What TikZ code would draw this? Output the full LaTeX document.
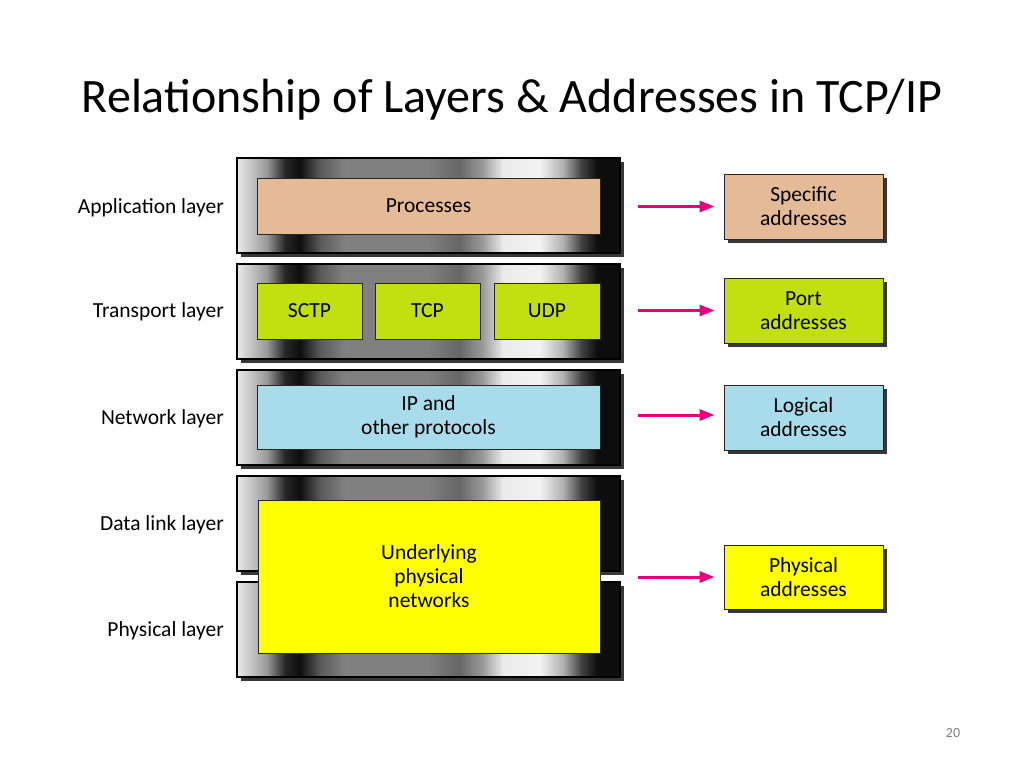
\documentclass[tikz,border=0pt]{standalone}
\usepackage{fontspec}
\setmainfont{Carlito}
\usetikzlibrary{arrows.meta,shadows}
\pgfdeclarehorizontalshading{metal}{100bp}{%
  color(0bp)=(black!8);
  color(25bp)=(black!8);
  color(28.9bp)=(black!40);
  color(31.25bp)=(black!85);
  color(33.2bp)=(black!95);
  color(35.85bp)=(black!65);
  color(39bp)=(black!50);
  color(50bp)=(black!50);
  color(54bp)=(black!60);
  color(57bp)=(black!40);
  color(59.75bp)=(black!8);
  color(64.5bp)=(black!5);
  color(67.5bp)=(black!30);
  color(70bp)=(black!75);
  color(72bp)=(black!95);
  color(75bp)=(black!95);
  color(100bp)=(black!95)}
\definecolor{cproc}{RGB}{229,187,151}
\definecolor{cgreen}{RGB}{194,224,15}
\definecolor{cblue}{RGB}{168,220,235}
\definecolor{cyel}{RGB}{255,255,0}
\definecolor{carrow}{RGB}{230,0,126}
\definecolor{cshadow}{RGB}{55,55,55}
\tikzset{
  layer/.style={shade, shading=metal, draw=black, line width=1.3pt,
    minimum width=383pt, minimum height=95pt, inner sep=0pt,
    drop shadow={shadow xshift=4pt, shadow yshift=-4pt, fill=cshadow, opacity=1}},
  inbox/.style={draw=black!85, line width=1pt, inner sep=0pt, align=center,
    font=\fontsize{21.5}{24}\selectfont},
  addr/.style={draw=black!85, line width=1pt, inner sep=0pt, align=center,
    minimum width=159pt, minimum height=65pt,
    font=\fontsize{21.5}{24}\selectfont,
    drop shadow={shadow xshift=4pt, shadow yshift=-4pt, fill=cshadow, opacity=1}},
  lbl/.style={anchor=base east, inner sep=0pt, font=\fontsize{21.5}{24}\selectfont},
  arr/.style={carrow, line width=3pt, -{Triangle[length=15pt,width=11pt]},
    shorten <=17pt, shorten >=9pt}
}
\begin{document}
\begin{tikzpicture}[x=1pt,y=-1pt]
\useasboundingbox[fill=white] (0,0) rectangle (1024,768);
% title
\node[anchor=base, inner sep=0pt, font=\fontsize{48}{56}\selectfont] (title) at (512,112)
  {Relationship of Layers \& Addresses in TCP/IP};
% layers
\node[layer] (app) at (428.5,205.5) {};
\node[layer] (trn) at (428.5,311.5) {};
\node[layer] (net) at (428.5,417.5) {};
\node[layer] (dl)  at (428.5,523.5) {};
\node[layer] (phy) at (428.5,629.5) {};
% inner boxes
\node[inbox, fill=cproc, minimum width=343pt, minimum height=56pt] (proc) at (428.5,206) {Processes};
\node[inbox, fill=cgreen, minimum width=105pt, minimum height=56pt] (sctp) at (309.5,311) {SCTP};
\node[inbox, fill=cgreen, minimum width=105pt, minimum height=56pt] (tcp) at (427.5,311) {TCP};
\node[inbox, fill=cgreen, minimum width=106pt, minimum height=56pt] (udp) at (547,311) {UDP};
\node[inbox, fill=cblue, minimum width=343pt, minimum height=64pt] (ip) at (428.5,417) {IP and\\other protocols};
\node[inbox, fill=cyel, minimum width=342pt, minimum height=153pt] (und) at (429,576.5) {Underlying\\physical\\networks};
% layer labels
\node[lbl] (lapp) at (224,213) {Application layer};
\node[lbl] (ltrn) at (224,317.5) {Transport layer};
\node[lbl] (lnet) at (224,424) {Network layer};
\node[lbl] (ldl)  at (224,530) {Data link layer};
\node[lbl] (lphy) at (224,636) {Physical layer};
% address boxes
\node[addr, fill=cproc] (spec) at (803.5,206.5) {Specific\\addresses};
\node[addr, fill=cgreen] (port) at (803.5,310.5) {Port\\addresses};
\node[addr, fill=cblue] (logi) at (803.5,417.5) {Logical\\addresses};
\node[addr, fill=cyel, minimum height=64pt] (phad) at (803.5,577) {Physical\\addresses};
% arrows
\draw[arr] (app.east |- spec.west) -- (spec.west);
\draw[arr] (trn.east |- port.west) -- (port.west);
\draw[arr] ([yshift=2.5pt]net.east |- logi.west) -- ([yshift=2.5pt]logi.west);
\draw[arr] (dl.east |- phad.west) -- (phad.west);
% page number
\node[inner sep=0pt, text=black!50, font=\fontsize{14}{16}\selectfont] (pg) at (953,733) {20};
\end{tikzpicture}
\end{document}
